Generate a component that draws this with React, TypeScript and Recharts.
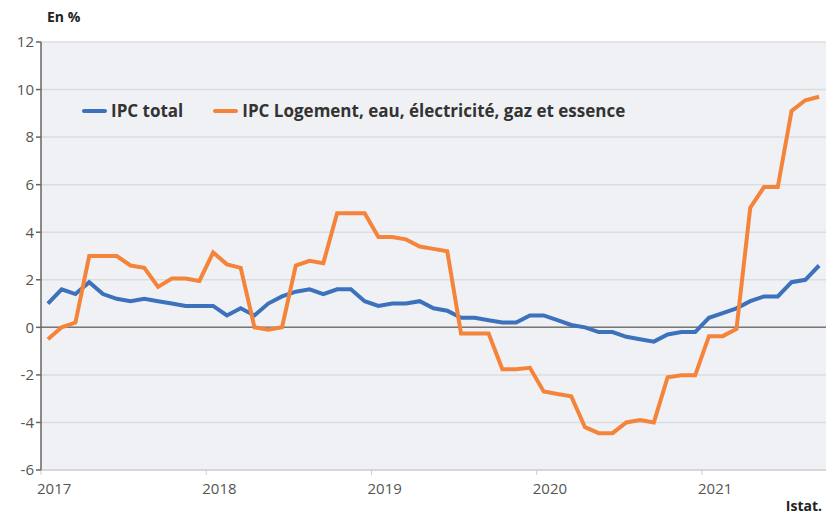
import { LineChart, Line, XAxis, YAxis, CartesianGrid, ReferenceLine } from 'recharts';

// monthly, Jan 2017 .. Sep 2021
const years = ['2017', '2018', '2019', '2020', '2021'];
const yTicks = [-6, -4, -2, 0, 2, 4, 6, 8, 10, 12];

const ipcTotal = [
  1.0, 1.6, 1.4, 1.9, 1.4, 1.2, 1.1, 1.2, 1.1, 1.0, 0.9, 0.9,
  0.9, 0.5, 0.8, 0.5, 1.0, 1.3, 1.5, 1.6, 1.4, 1.6, 1.6, 1.1,
  0.9, 1.0, 1.0, 1.1, 0.8, 0.7, 0.4, 0.4, 0.3, 0.2, 0.2, 0.5,
  0.5, 0.3, 0.1, 0.0, -0.2, -0.2, -0.4, -0.5, -0.6, -0.3, -0.2, -0.2,
  0.4, 0.6, 0.8, 1.1, 1.3, 1.3, 1.9, 2.0, 2.6,
];
const ipcLogement = [
  -0.5, 0.0, 0.2, 3.0, 3.0, 3.0, 2.6, 2.5, 1.7, 2.05, 2.05, 1.95,
  3.15, 2.65, 2.5, 0.0, -0.1, 0.0, 2.6, 2.8, 2.7, 4.8, 4.8, 4.8,
  3.8, 3.8, 3.7, 3.4, 3.3, 3.2, -0.26, -0.26, -0.26, -1.76, -1.76, -1.7,
  -2.7, -2.8, -2.9, -4.2, -4.45, -4.45, -4.0, -3.9, -4.0, -2.1, -2.02, -2.02,
  -0.37, -0.37, -0.07, 5.03, 5.9, 5.9, 9.1, 9.55, 9.7,
];

const data = ipcTotal.map((v, i) => ({ t: i + 0.5, total: v, logement: ipcLogement[i] }));

const BLUE = '#3c71bc';
const ORANGE = '#f5843b';
const FONT = '"Open Sans", "Noto Sans", sans-serif';

const legendItems = [
  { color: BLUE, label: 'IPC total' },
  { color: ORANGE, label: 'IPC Logement, eau, électricité, gaz et essence' },
];

function YearTick({ x, y, payload }: any) {
  return (
    <text x={x - 4} y={y + 17} textAnchor="start" fontSize={15} fill="#555" fontFamily={FONT}>
      {years[Math.round(payload.value / 12)]}
    </text>
  );
}

export default function App() {
  return (
    <div style={{ position: 'fixed', left: 0, top: 0, width: 826, height: 516, background: '#fff', fontFamily: FONT }}>
      <LineChart width={826} height={516} data={data} margin={{ top: 42, right: 0, left: 0, bottom: 0 }}>
        <CartesianGrid vertical={false} fill="#f0f1f4" stroke="#dcdde1" strokeWidth={1.5} />
        <XAxis
          dataKey="t" type="number" domain={[0, 57]} ticks={[0, 12, 24, 36, 48]}
          tick={<YearTick />} height={46} stroke="#ccc" tickSize={5} interval={0}
        />
        <YAxis
          domain={[-6, 12]} ticks={yTicks} width={41} tickSize={5}
          tick={{ fontSize: 15, fill: '#555', fontFamily: FONT }} stroke="#666" strokeWidth={1.5}
        />
        <ReferenceLine y={0} stroke="#777" strokeWidth={1.5} />
        <Line type="linear" dataKey="total" stroke={BLUE} strokeWidth={4} dot={false} isAnimationActive={false} />
        <Line type="linear" dataKey="logement" stroke={ORANGE} strokeWidth={4} dot={false} isAnimationActive={false} />
      </LineChart>
      <div style={{ position: 'absolute', left: 47, top: 7, fontSize: 14, fontWeight: 700, color: '#222' }}>En %</div>
      <div style={{ position: 'absolute', right: 4, top: 498, fontSize: 14, lineHeight: '16px', fontWeight: 700, color: '#222' }}>Istat.</div>
      {/* legend sits inside the plot area */}
      <div style={{ position: 'absolute', left: 82, top: 99, display: 'flex', gap: 30 }}>
        {legendItems.map(l => (
          <div key={l.label} style={{ display: 'flex', alignItems: 'center', gap: 4 }}>
            <span style={{ width: 25, height: 4, background: l.color, display: 'inline-block', borderRadius: 2 }} />
            <span style={{ fontSize: 17, fontWeight: 700, color: '#333' }}>{l.label}</span>
          </div>
        ))}
      </div>
    </div>
  );
}
